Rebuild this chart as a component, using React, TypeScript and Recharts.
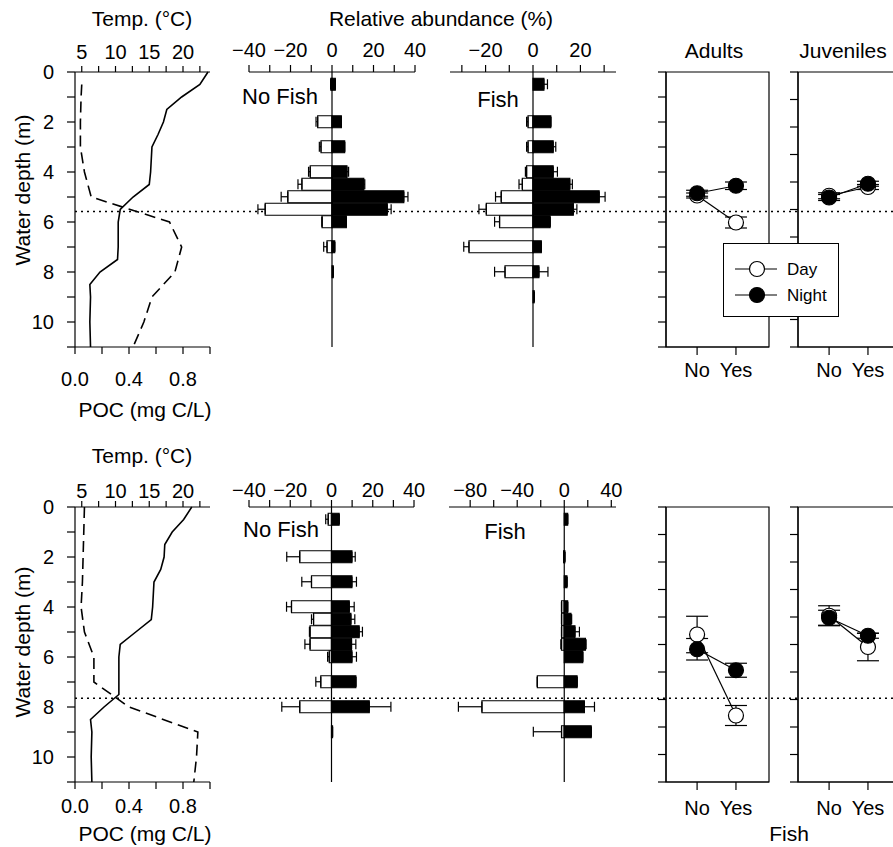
import React from 'react';
import {
  ComposedChart,
  LineChart,
  Line,
  Bar,
  XAxis,
  YAxis,
  ErrorBar,
  ReferenceLine,
  ReferenceArea,
  Legend,
} from 'recharts';

const FONT = '"Liberation Sans", Arial, Helvetica, sans-serif';
const PLOT_H = 275;

// ---- depth profiles (temperature solid, POC dashed) ----
const profileDepths = [0, 0.5, 1, 1.5, 2, 2.5, 3, 4, 4.5, 5, 5.5, 6, 7, 7.5, 8, 8.5, 9, 10, 11];
const temp1 = [23.7, 22.5, 19.8, 17.6, 17.1, 16.3, 15.4, 15.2, 15.0, 12.6, 10.7, 10.4, 10.4, 10.3, 7.7, 6.2, 6.3, 6.2, 6.3];
const poc1 = [null, 0.05, 0.045, null, 0.04, null, 0.04, 0.07, null, 0.12, null, 0.7, 0.79, null, 0.74, null, 0.57, 0.51, 0.43];
const temp2 = [21.3, 20.1, 18.4, 17.3, 17.2, 16.7, 15.7, 15.5, 15.3, 13.0, 10.7, 10.5, 10.5, 10.5, 8.3, 6.3, 6.5, 6.4, 6.5];
const poc2 = [0.07, null, 0.065, null, 0.06, null, 0.055, 0.045, null, 0.07, null, 0.14, 0.14, null, 0.4, null, 0.91, 0.9, 0.88];

const tempTicks = [5, 7.5, 10, 12.5, 15, 17.5, 20, 22.5];
const tempLabels = [5, 10, 15, 20];
const pocTicks = [0, 0.2, 0.4, 0.6, 0.8, 1.0];
const pocLabels = [0, 0.4, 0.8];
const depthTicks = [0, 1, 2, 3, 4, 5, 6, 7, 8, 9, 10, 11];
const depthLabels = [0, 2, 4, 6, 8, 10];

// ---- relative abundance bars (day negative, night positive) ----
const barDepths1 = [0.5, 2, 3, 4, 4.5, 5, 5.5, 6, 7, 8];
const noFishDay1 = [-0.6, -6.9, -5.3, -10.5, -14.5, -21.3, -32.2, -4.8, -2.4, 0];
const noFishDayErr1 = [0, 0.8, 0.8, 0.8, 1.9, 3.2, 3.5, 0, 1.6, 0];
const noFishNight1 = [1.6, 4.5, 6.1, 7.2, 15.3, 34.6, 26.6, 6.9, 1.3, 0.6];
const noFishNightErr1 = [0, 0, 0, 0.8, 0.5, 2.0, 1.9, 0, 0, 0];

const barDepthsFish1 = [0.5, 2, 3, 4, 4.5, 5, 5.5, 6, 7, 8, 9];
const fishDay1 = [0, -2.1, -2.1, -2.7, -4.5, -13.4, -19.7, -14.1, -27.0, -11.8, 0];
const fishDayErr1 = [0, 0.6, 0.6, 0.5, 1.4, 2.4, 3.1, 2.1, 2.2, 4.4, 0];
const fishNight1 = [4.6, 7.5, 8.5, 8.5, 15.5, 27.9, 17.0, 7.2, 3.5, 2.5, 0.5];
const fishNightErr1 = [1.5, 0, 1.1, 1.8, 1.1, 2.5, 1.5, 0, 0, 3.8, 0];

const barDepths2 = [0.5, 2, 3, 4, 4.5, 5, 5.5, 6, 7, 8, 9];
const noFishDay2 = [-1.6, -15.4, -9.7, -19.4, -8.7, -10.4, -10.4, -1.1, -5.2, -15.4, 0];
const noFishDayErr2 = [1.2, 6.3, 4.7, 2.4, 1.0, 0.3, 2.5, 0.8, 2.4, 8.7, 0];
const noFishNight2 = [3.7, 9.9, 9.9, 8.6, 9.4, 13.4, 9.7, 9.9, 11.8, 18.3, 0.5];
const noFishNightErr2 = [0, 1.6, 2.2, 2.4, 1.9, 1.6, 2.1, 2.2, 0, 10.5, 0];

const fishDay2 = [0, -0.5, 0, -2.3, -2.3, -2.3, -2.3, 0, -22.9, -70, -2.3];
const fishDayErr2 = [0, 0, 0, 0, 0, 0, 0.6, 0, 0, 20, 24];
const fishNight2 = [2.9, 0.5, 2.3, 2.9, 5.7, 9.1, 18, 15.7, 10.9, 17.1, 22.9];
const fishNightErr2 = [0, 0, 0, 0, 0.6, 3.8, 0.6, 0, 0, 8.6, 0];

// ---- mean depth of adults / juveniles ----
const fishLevels = [0, 1];
const fishNames = ['No', 'Yes'];
const adultDay1 = [4.94, 6.02];
const adultDayErr1 = [0.1, 0.22];
const adultNight1 = [4.85, 4.55];
const adultNightErr1 = [0.12, 0.15];
const juvDay1 = [4.95, 4.6];
const juvDayErr1 = [0.12, 0.1];
const juvNight1 = [5.02, 4.47];
const juvNightErr1 = [0.12, 0.1];

const adultDay2 = [5.1, 8.34];
const adultDayErr2 = [0.73, 0.4];
const adultNight2 = [5.69, 6.53];
const adultNightErr2 = [0.43, 0.28];
const juvDay2 = [4.35, 5.6];
const juvDayErr2 = [0.4, 0.55];
const juvNight2 = [4.43, 5.15];
const juvNightErr2 = [0.3, 0.1];

const ticks12 = [0, 1, 2, 3, 4, 5, 6, 7, 8, 9, 10, 11];
const ticks11 = [0, 1.1, 2.2, 3.3, 4.4, 5.5, 6.6, 7.7, 8.8, 9.9, 11];

const thermocline = [5.58, 7.65];

const minus = (v: number) => (v < 0 ? `\u2212${Math.abs(v)}` : `${v}`);

const profileRows = (temp: number[], poc: (number | null)[]) =>
  profileDepths.map((d, i) => ({ depth: d, temp: temp[i], poc: poc[i] }));

const barRows = (depths: number[], day: number[], dayErr: number[], night: number[], nightErr: number[]) =>
  depths.map((d, i) => ({
    depth: d,
    day: day[i],
    dayErr: [dayErr[i], 0],
    night: night[i],
    nightErr: [0, nightErr[i]],
  }));

const groupRows = (day: number[], dayErr: number[], night: number[], nightErr: number[]) =>
  fishLevels.map((f, i) => ({ fish: f, day: day[i], dayErr: dayErr[i], night: night[i], nightErr: nightErr[i] }));

const tickStyle = { fontSize: 20, fill: '#000' };

function Txt({ x, y, size = 21, rotate = false, children }: any) {
  return (
    <div
      style={{
        position: 'absolute',
        left: x,
        top: y,
        transform: `translate(-50%, -50%)${rotate ? ' rotate(-90deg)' : ''}`,
        fontSize: size,
        whiteSpace: 'nowrap',
        lineHeight: 1,
      }}
    >
      {children}
    </div>
  );
}

// dotted thermocline drawn across the whole row
function Thermocline({ top, depth }: { top: number; depth: number }) {
  const rows = [
    { x: 0, depth },
    { x: 1, depth },
  ];
  return (
    <div style={{ position: 'absolute', left: 75, top }}>
      <LineChart width={818} height={PLOT_H} data={rows} margin={{ top: 0, right: 0, bottom: 0, left: 0 }}>
        <XAxis type="number" dataKey="x" domain={[0, 1]} hide />
        <YAxis type="number" domain={[0, 11]} reversed hide />
        <Line
          type="linear"
          dataKey="depth"
          stroke="#000"
          strokeWidth={1.6}
          strokeDasharray="2 4"
          dot={false}
          activeDot={false}
          isAnimationActive={false}
        />
      </LineChart>
    </div>
  );
}

function ProfilePanel({ top, rows, topGap, bottomGap }: any) {
  return (
    <div style={{ position: 'absolute', left: 0, top: top - 45 }}>
      <ComposedChart
        width={225}
        height={45 + PLOT_H + 45}
        data={rows}
        layout="vertical"
        margin={{ top: 0, right: 15, bottom: 0, left: 0 }}
      >
        <XAxis
          xAxisId="temp"
          type="number"
          orientation="top"
          domain={[4, 24]}
          ticks={tempTicks}
          interval={0}
          height={45}
          tickSize={6}
          tickMargin={topGap}
          stroke="#000"
          strokeWidth={1.2}
          tick={tickStyle}
          tickFormatter={(v: number) => (tempLabels.includes(v) ? `${v}` : '')}
        />
        <XAxis
          xAxisId="poc"
          type="number"
          orientation="bottom"
          domain={[0, 1]}
          ticks={pocTicks}
          interval={0}
          height={45}
          tickSize={7}
          tickMargin={bottomGap}
          stroke="#000"
          strokeWidth={1.2}
          tick={tickStyle}
          tickFormatter={(v: number) => (pocLabels.includes(v) ? v.toFixed(1) : '')}
        />
        <YAxis
          type="number"
          dataKey="depth"
          domain={[0, 11]}
          ticks={depthTicks}
          interval={0}
          width={75}
          tickSize={8}
          tickMargin={13}
          stroke="#000"
          strokeWidth={1.2}
          tick={tickStyle}
          tickFormatter={(v: number) => (depthLabels.includes(v) ? `${v}` : '')}
        />
        <Line xAxisId="temp" type="linear" dataKey="temp" stroke="#000" strokeWidth={1.6} dot={false} isAnimationActive={false} />
        <Line
          xAxisId="poc"
          type="linear"
          dataKey="poc"
          stroke="#000"
          strokeWidth={1.6}
          strokeDasharray="11 6"
          dot={false}
          connectNulls
          isAnimationActive={false}
        />
      </ComposedChart>
    </div>
  );
}

function BarPanel({ left, top, plotWidth, domain, ticks, labels, rows, topGap }: any) {
  return (
    <div style={{ position: 'absolute', left: left - 25, top: top - 45 }}>
      <ComposedChart
        width={plotWidth + 50}
        height={45 + PLOT_H + 5}
        data={rows}
        layout="vertical"
        stackOffset="sign"
        margin={{ top: 0, right: 25, bottom: 5, left: 25 }}
      >
        <XAxis
          type="number"
          orientation="top"
          domain={domain}
          ticks={ticks}
          interval={0}
          allowDataOverflow
          height={45}
          tickSize={7}
          tickMargin={topGap}
          stroke="#000"
          strokeWidth={1.2}
          tick={tickStyle}
          tickFormatter={(v: number) => (labels.includes(v) ? minus(v) : '')}
        />
        <YAxis type="number" dataKey="depth" domain={[0, 11]} hide />
        <ReferenceLine x={0} stroke="#000" strokeWidth={1.2} />
        <Bar dataKey="day" stackId="s" fill="#fff" stroke="#000" strokeWidth={1.2} barSize={12} isAnimationActive={false}>
          <ErrorBar dataKey="dayErr" direction="x" width={5} stroke="#000" strokeWidth={1.2} />
        </Bar>
        <Bar dataKey="night" stackId="s" fill="#000" stroke="#000" strokeWidth={1.2} barSize={12} isAnimationActive={false}>
          <ErrorBar dataKey="nightErr" direction="x" width={5} stroke="#000" strokeWidth={1.2} />
        </Bar>
      </ComposedChart>
    </div>
  );
}

const dotFill: Record<string, string> = { Day: '#fff', Night: '#000' };

const renderLegend = (props: any) => (
  <div
    style={{
      position: 'relative',
      width: 116,
      height: 74,
      boxSizing: 'border-box',
      border: '1.3px solid #000',
      background: '#fff',
      fontFamily: FONT,
    }}
  >
    {(props.payload || []).map((entry: any, i: number) => (
      <div
        key={entry.value}
        style={{ position: 'absolute', left: 11, top: 13 + i * 26, height: 24, display: 'flex', alignItems: 'center' }}
      >
        <svg width={44} height={24}>
          <line x1={0} y1={12} x2={42} y2={12} stroke="#000" strokeWidth={1.2} />
          <circle cx={22} cy={12} r={7.5} fill={dotFill[entry.value]} stroke="#000" strokeWidth={1.2} />
        </svg>
        <span style={{ marginLeft: 8, fontSize: 17, lineHeight: 1 }}>{entry.value}</span>
      </div>
    ))}
  </div>
);

function GroupPanel({ left, top, rows, yTicks, legend, labelGap }: any) {
  return (
    <div style={{ position: 'absolute', left: left - 30, top: top - 10, zIndex: legend ? 3 : 1 }}>
      <LineChart width={30 + 103 + 10} height={10 + PLOT_H + 45} data={rows} margin={{ top: 10, right: 10, bottom: 0, left: 0 }}>
        <XAxis
          type="number"
          dataKey="fish"
          domain={[-0.8, 1.85]}
          ticks={fishLevels}
          interval={0}
          allowDataOverflow
          height={45}
          tickSize={8}
          tickMargin={labelGap}
          stroke="#000"
          strokeWidth={1.2}
          tick={tickStyle}
          tickFormatter={(v: number) => fishNames[v]}
        />
        <YAxis
          type="number"
          domain={[0, 11]}
          reversed
          ticks={yTicks}
          interval={0}
          width={30}
          tickSize={8}
          stroke="#000"
          strokeWidth={1.2}
          tickFormatter={() => ''}
        />
        <ReferenceArea x1={-0.8} x2={1.85} y1={0} y2={11} fill="none" stroke="#000" strokeWidth={1.2} />
        <Line
          name="Day"
          type="linear"
          dataKey="day"
          stroke="#000"
          strokeWidth={1.2}
          dot={{ r: 7.5, fill: '#fff', stroke: '#000', strokeWidth: 1.2 }}
          activeDot={false}
          isAnimationActive={false}
        >
          <ErrorBar dataKey="dayErr" direction="y" width={11} stroke="#000" strokeWidth={1.2} />
        </Line>
        <Line
          name="Night"
          type="linear"
          dataKey="night"
          stroke="#000"
          strokeWidth={1.2}
          dot={{ r: 7.5, fill: '#000', stroke: '#000', strokeWidth: 1.2 }}
          activeDot={false}
          isAnimationActive={false}
        >
          <ErrorBar dataKey="nightErr" direction="y" width={11} stroke="#000" strokeWidth={1.2} />
        </Line>
        {legend && (
          <Legend
            layout="vertical"
            align="center"
            verticalAlign="middle"
            content={renderLegend}
            wrapperStyle={{ position: 'absolute', left: 87, top: 181, width: 116, height: 74 }}
          />
        )}
      </LineChart>
    </div>
  );
}

export default function App() {
  const tops = [72, 507];
  return (
    <div
      style={{
        position: 'absolute',
        left: 0,
        top: 0,
        width: 893,
        height: 847,
        overflow: 'hidden',
        background: '#fff',
        fontFamily: FONT,
        color: '#000',
      }}
    >
      <Thermocline top={tops[0]} depth={thermocline[0]} />
      <Thermocline top={tops[1]} depth={thermocline[1]} />

      {/* row 1 */}
      <ProfilePanel top={tops[0]} rows={profileRows(temp1, poc1)} topGap={7} bottomGap={18} />
      <BarPanel
        left={249}
        top={tops[0]}
        plotWidth={166}
        domain={[-40, 40]}
        ticks={[-40, -30, -20, -10, 0, 10, 20, 30, 40]}
        labels={[-40, -20, 0, 20, 40]}
        rows={barRows(barDepths1, noFishDay1, noFishDayErr1, noFishNight1, noFishNightErr1)}
        topGap={8}
      />
      <BarPanel
        left={450}
        top={tops[0]}
        plotWidth={166}
        domain={[-35, 35]}
        ticks={[-30, -20, -10, 0, 10, 20, 30]}
        labels={[-20, 0, 20]}
        rows={barRows(barDepthsFish1, fishDay1, fishDayErr1, fishNight1, fishNightErr1)}
        topGap={8}
      />
      <GroupPanel left={798} top={tops[0]} rows={groupRows(juvDay1, juvDayErr1, juvNight1, juvNightErr1)} yTicks={ticks11} labelGap={8} />
      <GroupPanel
        left={666}
        top={tops[0]}
        rows={groupRows(adultDay1, adultDayErr1, adultNight1, adultNightErr1)}
        yTicks={ticks12}
        labelGap={8}
        legend
      />

      {/* row 2 */}
      <ProfilePanel top={tops[1]} rows={profileRows(temp2, poc2)} topGap={3} bottomGap={10} />
      <BarPanel
        left={249}
        top={tops[1]}
        plotWidth={165}
        domain={[-40, 40]}
        ticks={[-40, -30, -20, -10, 0, 10, 20, 30, 40]}
        labels={[-40, -20, 0, 20, 40]}
        rows={barRows(barDepths2, noFishDay2, noFishDayErr2, noFishNight2, noFishNightErr2)}
        topGap={3}
      />
      <BarPanel
        left={449}
        top={tops[1]}
        plotWidth={167}
        domain={[-98, 44]}
        ticks={[-80, -60, -40, -20, 0, 20, 40]}
        labels={[-80, -40, 0, 40]}
        rows={barRows(barDepths2, fishDay2, fishDayErr2, fishNight2, fishNightErr2)}
        topGap={3}
      />
      <GroupPanel left={798} top={tops[1]} rows={groupRows(juvDay2, juvDayErr2, juvNight2, juvNightErr2)} yTicks={ticks11} labelGap={11} />
      <GroupPanel left={666} top={tops[1]} rows={groupRows(adultDay2, adultDayErr2, adultNight2, adultNightErr2)} yTicks={ticks11} labelGap={11} />

      {/* titles */}
      <Txt x={142} y={18}>Temp. (°C)</Txt>
      <Txt x={441} y={18}>Relative abundance (%)</Txt>
      <Txt x={22} y={190} rotate>Water depth (m)</Txt>
      <Txt x={145} y={409}>POC (mg C/L)</Txt>
      <Txt x={280} y={97} size={22}>No Fish</Txt>
      <Txt x={498} y={100} size={22}>Fish</Txt>
      <Txt x={714} y={50}>Adults</Txt>
      <Txt x={843} y={50}>Juveniles</Txt>

      <Txt x={142} y={455}>Temp. (°C)</Txt>
      <Txt x={22} y={642} rotate>Water depth (m)</Txt>
      <Txt x={145} y={833}>POC (mg C/L)</Txt>
      <Txt x={281} y={530} size={22}>No Fish</Txt>
      <Txt x={505} y={532} size={22}>Fish</Txt>
      <Txt x={789} y={833}>Fish</Txt>
    </div>
  );
}
